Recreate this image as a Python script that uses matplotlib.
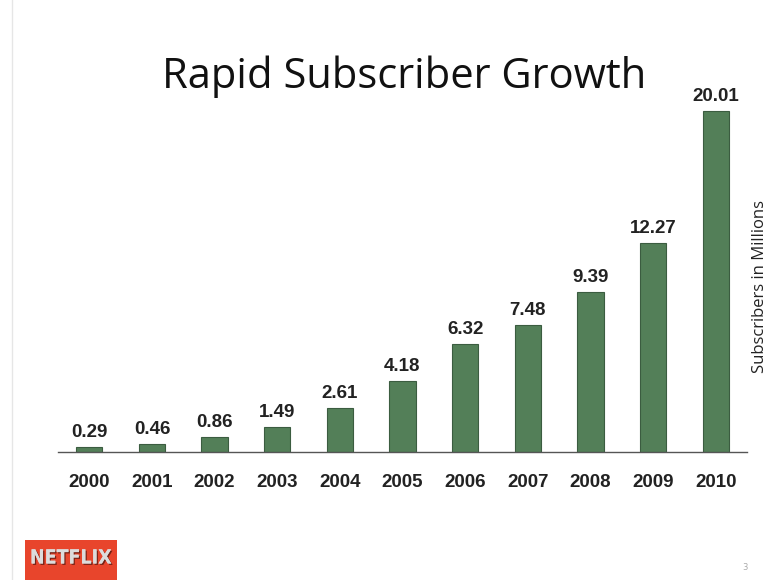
import numpy as np
import matplotlib
matplotlib.use("Agg")
import matplotlib.pyplot as plt
import matplotlib.patheffects as pe
from matplotlib.patches import Rectangle
from matplotlib.lines import Line2D

years = ["2000", "2001", "2002", "2003", "2004", "2005",
         "2006", "2007", "2008", "2009", "2010"]
subscribers = [0.29, 0.46, 0.86, 1.49, 2.61, 4.18, 6.32, 7.48, 9.39, 12.27, 20.01]

W, H = 768, 580
fig = plt.figure(figsize=(W / 100, H / 100), dpi=100)
fig.patch.set_facecolor("white")

# axes placed in pixel terms: baseline at y=452, bars spanning x 58..747
ax = fig.add_axes([58 / W, (H - 452) / H, 689 / W, 375 / H])
x = np.arange(len(years))
ax.bar(x, subscribers, width=0.42, color="#537f58", edgecolor="#3b5c40", linewidth=0.8)
ax.set_xlim(-0.5, len(years) - 0.5)
ax.set_ylim(0, 22)

for xi, v in zip(x, subscribers):
    ax.text(xi, v + 0.35, f"{v:.2f}", ha="center", va="bottom",
            fontsize=13.5, fontweight="bold", family="Liberation Sans", color="#222222")

ax.set_xticks(x)
ax.set_xticklabels(years, fontsize=13.5, fontweight="bold", family="Liberation Sans", color="#222222")
ax.tick_params(axis="x", length=0, pad=16)
ax.set_yticks([])
for s in ["top", "right", "left"]:
    ax.spines[s].set_visible(False)
ax.spines["bottom"].set_color("#555555")
ax.spines["bottom"].set_linewidth(1.0)

# title and side label
fig.text(404 / W, 1 - 77 / H, "Rapid Subscriber Growth", ha="center", va="center",
         fontsize=30, family="Open Sans", color="#111111")
fig.text(760 / W, 1 - 287 / H, "Subscribers in Millions", ha="center", va="center",
         rotation=90, fontsize=12, family="Open Sans", color="#222222")

# faint slide edge line
fig.add_artist(Line2D([12 / W, 12 / W], [0, 1], color="#e6e6e6", linewidth=1))

# netflix logo block
fig.add_artist(Rectangle((25 / W, 0), 92 / W, 40 / H, facecolor="#e8452c", edgecolor="none"))
fig.text(71 / W, 1 - 558 / H, "NETFLIX", ha="center", va="center", fontsize=14,
         fontweight="bold", family="DejaVu Sans", fontstretch="condensed", color="#dcdcdc",
         path_effects=[pe.withSimplePatchShadow(offset=(1, -1), shadow_rgbFace="#5a1a10", alpha=0.8),
                       pe.Normal()])

# page number
fig.text(745 / W, 1 - 567 / H, "3", ha="center", va="center", fontsize=6, color="#aaaaaa")

fig.savefig("out.png", dpi=100)
